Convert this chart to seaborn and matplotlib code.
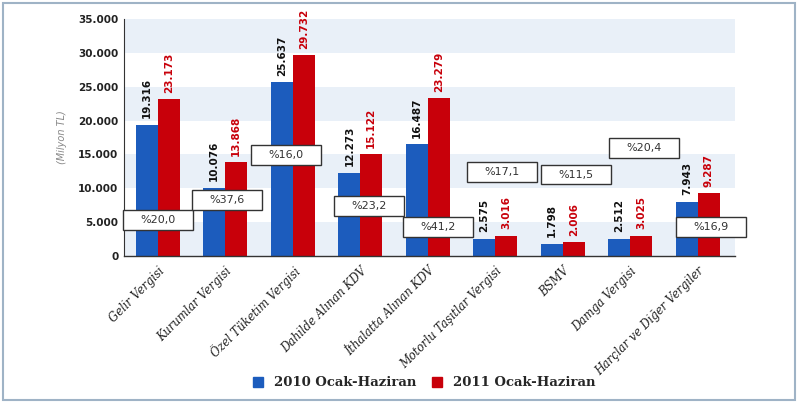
import numpy as np
import pandas as pd
import matplotlib
matplotlib.use("Agg")
import matplotlib.pyplot as plt
import seaborn as sns
from matplotlib.patches import Rectangle, Patch

categories = ["Gelir Vergisi", "Kurumlar Vergisi", "Özel Tüketim Vergisi",
              "Dahilde Alınan KDV", "İthalatta Alınan KDV", "Motorlu Taşıtlar Vergisi",
              "BSMV", "Damga Vergisi", "Harçlar ve Diğer Vergiler"]
vals_2010 = [19316, 10076, 25637, 12273, 16487, 2575, 1798, 2512, 7943]
vals_2011 = [23173, 13868, 29732, 15122, 23279, 3016, 2006, 3025, 9287]
series = ["2010 Ocak-Haziran", "2011 Ocak-Haziran"]
pct_labels = ["%20,0", "%37,6", "%16,0", "%23,2", "%41,2", "%17,1", "%11,5", "%20,4", "%16,9"]
yticks = [0, 5000, 10000, 15000, 20000, 25000, 30000, 35000]

# where the percentage boxes sit (category offset, y centre)
box_x = [0.0, 1.03, 1.9, 3.13, 4.15, 5.1, 6.2, 7.2, 8.2]
box_y = [5300, 8260, 14900, 7370, 4280, 12390, 12020, 15930, 4280]

BLUE = "#1c5cbd"
RED = "#c8000a"

df = pd.DataFrame({
    "kategori": categories * 2,
    "donem": [series[0]] * len(categories) + [series[1]] * len(categories),
    "deger": vals_2010 + vals_2011,
})

sns.set_style("white")
fig = plt.figure(figsize=(7.98, 4.03), dpi=100)
ax = fig.add_axes([124 / 798, 1 - 256 / 403, (735 - 124) / 798, (256 - 19) / 403])

# alternating bands
for i, lo in enumerate(yticks[:-1]):
    if i % 2 == 0:
        ax.axhspan(lo, lo + 5000, color="#e9f0f8", zorder=0, lw=0)

sns.barplot(data=df, x="kategori", y="deger", hue="donem", palette=[BLUE, RED],
            width=0.65, dodge=True, saturation=1, ax=ax, legend=False, zorder=2,
            linewidth=0, edgecolor="none")

ax.set_xlim(-0.5, 8.55)
ax.set_ylim(0, 35000)
ax.set_yticks(yticks)
ax.set_yticklabels(["0" if v == 0 else f"{v:,}".replace(",", ".") for v in yticks],
                   fontsize=7.5, fontweight="bold", color="#222222")
ax.set_xlabel("")
ax.set_ylabel("(Milyon TL)", fontsize=7, style="italic", color="#888888", labelpad=8)
ax.set_xticks(range(len(categories)))
ax.set_xticklabels(categories, rotation=45, ha="right", rotation_mode="anchor",
                   fontsize=8.3, style="italic", family="DejaVu Serif", color="#222222")
ax.tick_params(axis="x", length=0, pad=6)
ax.tick_params(axis="y", length=0, pad=4)
for s in ["top", "right"]:
    ax.spines[s].set_visible(False)
ax.spines["left"].set_color("#333333")
ax.spines["bottom"].set_color("#333333")
ax.spines["left"].set_linewidth(0.8)
ax.spines["bottom"].set_linewidth(1.0)

# value labels on bars
off = 0.65 / 4
for i in range(len(categories)):
    ax.text(i - off, vals_2010[i] + 1000, f"{vals_2010[i]:,}".replace(",", "."),
            rotation=90, ha="center", va="bottom", fontsize=7.5, fontweight="bold",
            color="#111111", zorder=4)
    ax.text(i + off, vals_2011[i] + 900, f"{vals_2011[i]:,}".replace(",", "."),
            rotation=90, ha="center", va="bottom", fontsize=7.5, fontweight="bold",
            color=RED, zorder=4)

# percentage boxes
bw, bh = 1.04, 2900
for lab, bx, by in zip(pct_labels, box_x, box_y):
    ax.add_patch(Rectangle((bx - bw / 2, by - bh / 2), bw, bh, facecolor="white",
                           edgecolor="#333333", lw=1.0, zorder=5, clip_on=False))
    ax.text(bx, by, lab, ha="center", va="center", fontsize=8, color="#333333", zorder=6)

# legend
handles = [Patch(facecolor=BLUE, edgecolor=BLUE), Patch(facecolor=RED, edgecolor=RED)]
fig.legend(handles, series, loc="center", bbox_to_anchor=(424 / 798, 1 - 383 / 403),
           ncol=2, frameon=False, handlelength=0.8, handleheight=0.8, columnspacing=1.2,
           handletextpad=0.8,
           prop={"family": "DejaVu Serif", "weight": "bold", "size": 9.5})

# outer frame
fig.patches.append(Rectangle((0.004, 0.008), 0.992, 0.985, transform=fig.transFigure,
                             fill=False, edgecolor="#9fb3c6", lw=1.5))

fig.savefig("out.png", dpi=100)
